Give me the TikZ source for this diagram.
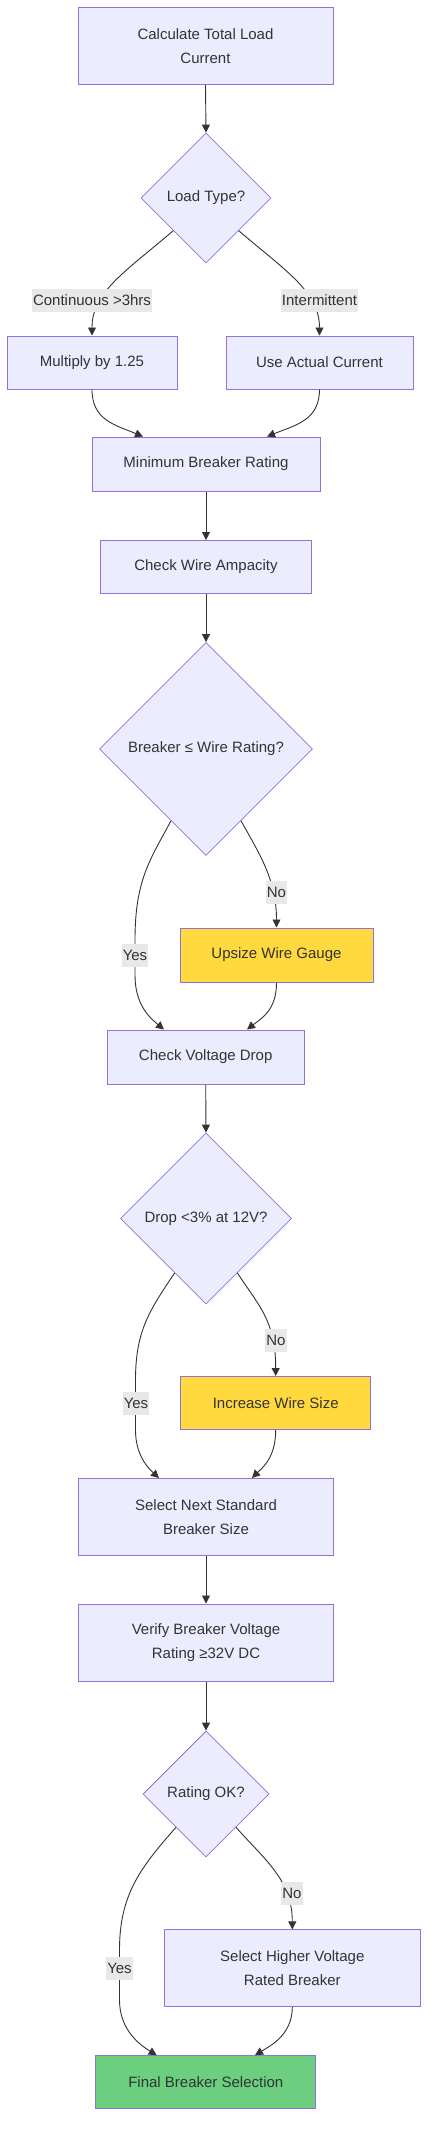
\documentclass[tikz,border=0pt]{standalone}
\usepackage{fontspec}
\setmainfont{Liberation Sans}
\usetikzlibrary{shapes.geometric,arrows.meta,calc}
\definecolor{boxfill}{HTML}{ECECFF}
\definecolor{boxline}{HTML}{9370DB}
\definecolor{txt}{HTML}{333333}
\definecolor{yel}{HTML}{FFD93D}
\definecolor{grn}{HTML}{6BCF7F}
\definecolor{lblbg}{HTML}{E8E8E8}
\tikzset{
  box/.style={draw=boxline, fill=boxfill, line width=1pt, rectangle, inner sep=0pt, align=center, text=txt, font=\fontsize{15}{24}\selectfont},
  dec/.style={draw=boxline, fill=boxfill, line width=0.8pt, diamond, aspect=1, inner sep=0pt, align=center, text=txt, font=\fontsize{15}{24}\selectfont},
  lbl/.style={fill=lblbg, inner xsep=1pt, inner ysep=0pt, minimum height=23pt, text=txt, font=\fontsize{15}{18}\selectfont},
  conn/.style={draw=txt, line width=0.9pt, -{Triangle[length=8pt,width=8pt]}},
}
\begin{document}
\begin{tikzpicture}[x=1pt,y=-1pt]
\useasboundingbox (0,0) rectangle (436,2154);
% nodes
\node[box, minimum width=255pt, minimum height=77pt] (calc) at (205.5,46) {Calculate Total Load\\Current};
\node[dec, minimum size=130pt] (d1) at (206,198) {Load Type?};
\node[box, minimum width=170pt, minimum height=53pt] (mult) at (92,362.5) {Multiply by 1.25};
\node[box, minimum width=187pt, minimum height=53pt] (use) at (319.5,362.5) {Use Actual Current};
\node[box, minimum width=228pt, minimum height=54pt] (minb) at (206,464) {Minimum Breaker Rating};
\node[box, minimum width=211pt, minimum height=53pt] (chk) at (206,567) {Check Wire Ampacity};
\node[dec, minimum size=213pt] (d2) at (206,749) {Breaker ≤ Wire Rating?};
\node[box, fill=yel, minimum width=193pt, minimum height=54pt] (ups) at (276.5,955) {Upsize Wire Gauge};
\node[box, minimum width=197pt, minimum height=54pt] (cvd) at (205.7,1057) {Check Voltage Drop};
\node[dec, minimum size=171pt] (d3) at (206,1218.5) {Drop <3\% at 12V?};
\node[box, fill=yel, minimum width=190pt, minimum height=53pt] (inc) at (275.7,1403) {Increase Wire Size};
\node[box, minimum width=255.7pt, minimum height=77pt] (seln) at (206,1517) {Select Next Standard\\Breaker Size};
\node[box, minimum width=255.7pt, minimum height=77pt] (ver) at (206,1642.5) {Verify Breaker Voltage\\Rating ≥32V DC};
\node[dec, minimum size=126pt] (d4) at (206,1794) {Rating OK?};
\node[box, minimum width=256pt, minimum height=76.7pt] (hig) at (292.3,1968.3) {Select Higher Voltage\\Rated Breaker};
\node[box, fill=grn, minimum width=220.3pt, minimum height=53.3pt] (fin) at (205.8,2082.3) {Final Breaker Selection};
% connectors
\draw[conn] (calc.south) -- (d1.north);
\draw[conn] (d1.225) .. controls (125,272) and (92,292) .. (mult.north);
\draw[conn] (d1.-45) .. controls (287,272) and (319.5,292) .. (use.north);
\draw[conn] (mult.south) .. controls (92,420) and (115,425) .. ([xshift=-63pt]minb.north);
\draw[conn] (use.south) .. controls (319.5,420) and (296,425) .. ([xshift=61pt]minb.north);
\draw[conn] (minb.south) -- (chk.north);
\draw[conn] (chk.south) -- (d2.north);
\draw[conn] (d2.-64) .. controls (260,855) and (276.5,880) .. (ups.north);
\draw[conn] (d2.244) .. controls (150,860) and (135,880) .. (135,940) -- (135,975) .. controls (135,1005) and (150,1018) .. ([xshift=-41.7pt]cvd.north);
\draw[conn] (ups.south) .. controls (276.5,1010) and (262,1018) .. ([xshift=41.3pt]cvd.north);
\draw[conn] (cvd.south) -- (d3.north);
\draw[conn] (d3.-60.5) .. controls (258,1305) and (275.7,1320) .. (inc.north);
\draw[conn] (d3.240.5) .. controls (150,1310) and (135.5,1330) .. (135.5,1380) -- (135.5,1430) .. controls (135.5,1455) and (148,1468) .. ([xshift=-47pt]seln.north);
\draw[conn] (inc.south) .. controls (275.7,1458) and (262,1468) .. ([xshift=46pt]seln.north);
\draw[conn] (seln.south) -- (ver.north);
\draw[conn] (ver.south) -- (d4.north);
\draw[conn] (d4.-48.8) .. controls (265,1860) and (292.3,1880) .. (hig.north);
\draw[conn] (d4.228.8) .. controls (140,1868) and (119.5,1895) .. (119.5,1950) -- (119.5,2000) .. controls (119.5,2030) and (140,2045) .. ([xshift=-49.1pt]fin.north);
\draw[conn] (hig.south) .. controls (292.3,2035) and (270,2046) .. ([xshift=49.2pt]fin.north);
% edge labels
\node[lbl] (l1) at (92,300) {Continuous >3hrs};
\node[lbl] (l2) at (319.5,300) {Intermittent};
\node[lbl] (l3) at (276.5,892) {No};
\node[lbl] (l4) at (135,955) {Yes};
\node[lbl] (l5) at (276,1340.5) {No};
\node[lbl] (l6) at (136,1403) {Yes};
\node[lbl] (l7) at (292,1893) {No};
\node[lbl] (l8) at (119.5,1968) {Yes};
\end{tikzpicture}
\end{document}
